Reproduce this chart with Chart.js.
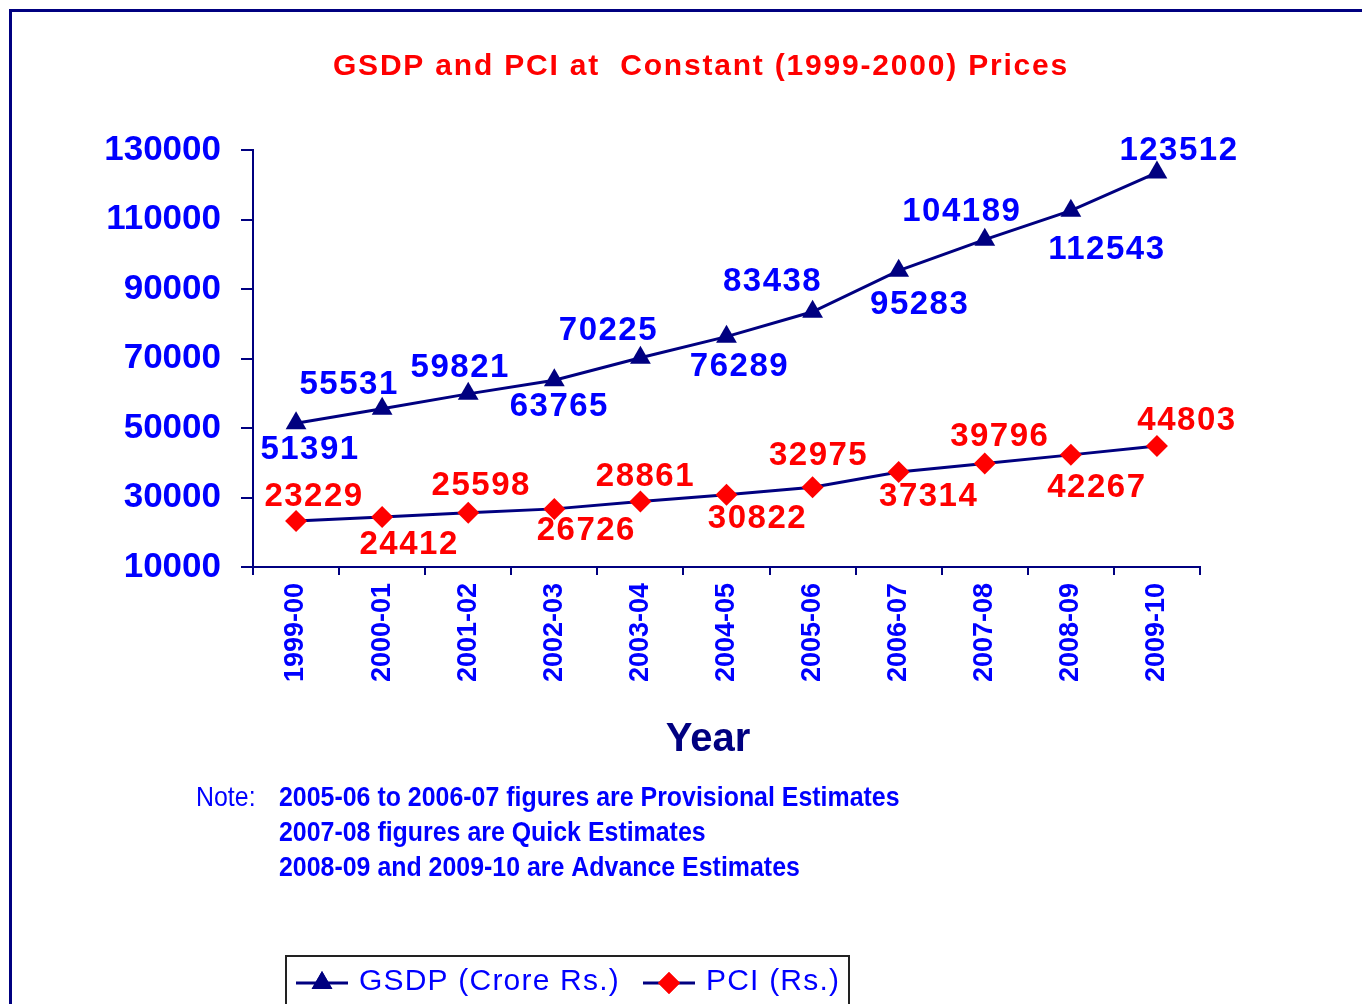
<!DOCTYPE html>
<html>
<head>
<meta charset="utf-8">
<script src="https://cdn.jsdelivr.net/npm/chart.js@4.4.1/dist/chart.umd.min.js"></script>
<style>
  html, body { margin: 0; padding: 0; background: #fff; }
  #wrap { position: relative; width: 1362px; height: 1004px; overflow: hidden; }
  #frame { position: absolute; left: 9px; top: 9px; right: -10px; bottom: -10px;
           border-left: 3px solid #000080; border-top: 3px solid #000080; }
  canvas { position: absolute; left: 0; top: 0; }
</style>
</head>
<body>
<div id="wrap">
  <div id="frame"></div>
  <canvas id="gsdpChart" width="1362" height="1004"></canvas>
</div>
<script>
// data
const years = ['1999-00', '2000-01', '2001-02', '2002-03', '2003-04', '2004-05',
               '2005-06', '2006-07', '2007-08', '2008-09', '2009-10'];
const gsdp = [51391, 55531, 59821, 63765, 70225, 76289, 83438, 95283, 104189, 112543, 123512];
const pci = [23229, 24412, 25598, 26726, 28861, 30822, 32975, 37314, 39796, 42267, 44803];
const yTicks = [10000, 30000, 50000, 70000, 90000, 110000, 130000];

const titleText = 'GSDP and PCI at  Constant (1999-2000) Prices';
const notes = [
    ['Note:', '2005-06 to 2006-07 figures are Provisional Estimates'],
    ['', '2007-08 figures are Quick Estimates'],
    ['', '2008-09 and 2009-10 are Advance Estimates']
];

// where each value label sits relative to its point [dx, dy]
const gsdpLabelNudge = [[14, 27], [-33, -24], [-8, -26], [5, 27], [-32, -27], [13, 30],
                        [-40, -30], [21, 34], [-23, -28], [36, 39], [22, -22]];
const pciLabelNudge = [[18, -24], [27, 28], [13, -27], [32, 22], [5, -25], [31, 24],
                       [6, -31], [30, 25], [15, -27], [26, 33], [30, -25]];

const NAVY = '#000080';
const BLUE = '#0000FF';
const RED = '#FF0000';
const FONT = '"Liberation Sans", Arial, sans-serif';

const valueLabels = {
    id: 'valueLabels',
    afterDatasetsDraw(chart) {
        const ctx = chart.ctx;
        const nudges = [gsdpLabelNudge, pciLabelNudge];
        const colors = [BLUE, RED];
        ctx.save();
        ctx.font = 'bold 33px ' + FONT;
        ctx.textAlign = 'center';
        ctx.textBaseline = 'middle';
        ctx.letterSpacing = '1.5px';
        chart.data.datasets.forEach((ds, di) => {
            const meta = chart.getDatasetMeta(di);
            ctx.fillStyle = colors[di];
            meta.data.forEach((pt, i) => {
                const [dx, dy] = nudges[di][i];
                ctx.fillText(String(ds.data[i]), pt.x + dx, pt.y + dy);
            });
        });
        ctx.restore();
    }
};

const extras = {
    id: 'extras',
    afterDraw(chart) {
        const ctx = chart.ctx;
        ctx.save();
        // title
        ctx.fillStyle = RED;
        ctx.font = 'bold 30px ' + FONT;
        ctx.letterSpacing = '1.8px';
        ctx.textAlign = 'center';
        ctx.textBaseline = 'middle';
        ctx.fillText(titleText, 701, 67);

        // axis title
        ctx.letterSpacing = '0px';
        ctx.fillStyle = NAVY;
        ctx.font = 'bold 40px ' + FONT;
        ctx.fillText('Year', 708, 740);

        // notes, condensed
        ctx.fillStyle = BLUE;
        ctx.textAlign = 'left';
        const sx = 0.89;
        notes.forEach((n, i) => {
            const y = 798 + i * 35;
            ctx.save();
            ctx.translate(0, y);
            ctx.scale(sx, 1);
            if (n[0]) {
                ctx.font = '28px ' + FONT;
                ctx.fillText(n[0], 196 / sx, 0);
            }
            ctx.font = 'bold 28px ' + FONT;
            ctx.fillText(n[1], 279 / sx, 0);
            ctx.restore();
        });

        // legend
        ctx.strokeStyle = '#222';
        ctx.lineWidth = 2;
        ctx.strokeRect(286, 956, 563, 60);
        const items = [
            { x: 296, text: chart.data.datasets[0].label, ds: 0 },
            { x: 643, text: chart.data.datasets[1].label, ds: 1 }
        ];
        ctx.font = '30px ' + FONT;
        ctx.letterSpacing = '1.2px';
        items.forEach(it => {
            const ds = chart.data.datasets[it.ds];
            ctx.strokeStyle = ds.borderColor;
            ctx.lineWidth = 3;
            ctx.beginPath();
            ctx.moveTo(it.x, 983);
            ctx.lineTo(it.x + 52, 983);
            ctx.stroke();
            ctx.fillStyle = ds.pointBackgroundColor;
            Chart.helpers.drawPoint(ctx, {
                pointStyle: ds.pointStyle, rotation: 0, borderWidth: 0,
                radius: ds.pointRadius
            }, it.x + 26, 983);
            ctx.fill();
            ctx.fillStyle = BLUE;
            ctx.textBaseline = 'middle';
            ctx.fillText(it.text, it.x + 63, 982);
        });
        ctx.restore();
    }
};

new Chart(document.getElementById('gsdpChart'), {
    type: 'line',
    data: {
        labels: years,
        datasets: [{
            label: 'GSDP (Crore Rs.)',
            data: gsdp,
            borderColor: NAVY,
            borderWidth: 3,
            pointStyle: 'triangle',
            pointRadius: 12,
            pointBackgroundColor: NAVY,
            pointBorderColor: NAVY,
            pointBorderWidth: 0,
            tension: 0
        }, {
            label: 'PCI (Rs.)',
            data: pci,
            borderColor: NAVY,
            borderWidth: 3,
            pointStyle: 'rectRot',
            pointRadius: 11,
            pointBackgroundColor: RED,
            pointBorderColor: RED,
            pointBorderWidth: 0,
            tension: 0
        }]
    },
    options: {
        responsive: false,
        animation: false,
        layout: { padding: { left: 0, right: 162, top: 150, bottom: 0 } },
        plugins: {
            legend: { display: false },
            title: { display: false },
            tooltip: { enabled: false }
        },
        scales: {
            x: {
                type: 'category',
                offset: true,
                border: { color: NAVY, width: 2 },
                grid: { offset: true, drawOnChartArea: false, tickLength: 8, color: NAVY, lineWidth: 2 },
                ticks: {
                    minRotation: 90,
                    maxRotation: 90,
                    autoSkip: false,
                    padding: 8,
                    color: BLUE,
                    font: { family: FONT, size: 27, weight: 'bold' }
                },
                afterFit(scale) { scale.height = 437; }
            },
            y: {
                min: 10000,
                max: 130000,
                border: { color: NAVY, width: 2 },
                grid: { drawOnChartArea: false, tickLength: 12, color: NAVY, lineWidth: 2 },
                afterBuildTicks(scale) { scale.ticks = yTicks.map(v => ({ value: v })); },
                ticks: {
                    padding: 20,
                    color: BLUE,
                    font: { family: FONT, size: 35, weight: 'bold' },
                    callback: v => String(v)
                },
                afterFit(scale) { scale.width = 253; }
            }
        }
    },
    plugins: [valueLabels, extras]
});
</script>
</body>
</html>
